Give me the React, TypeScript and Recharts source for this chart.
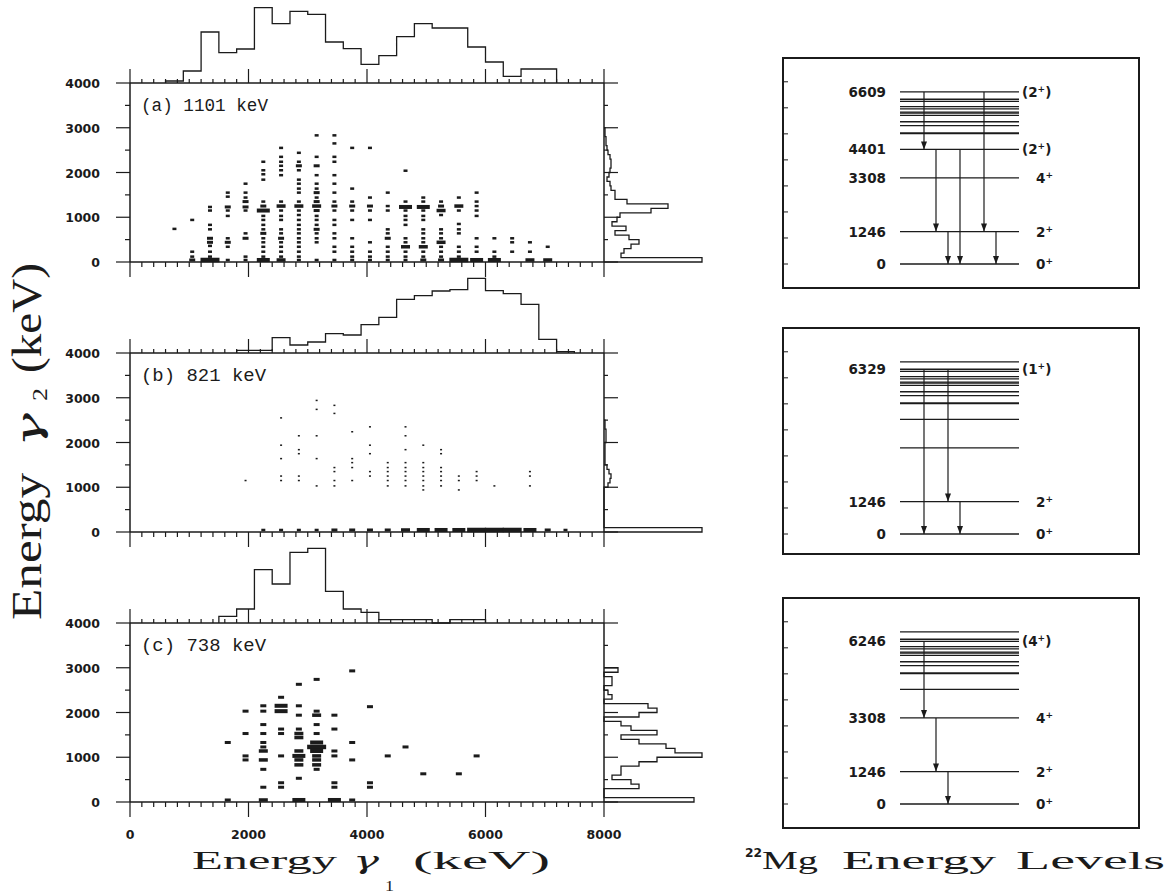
import React from 'react';
import { ScatterChart, Scatter, XAxis, YAxis, ReferenceLine } from 'recharts';

// ---------------- values ----------------

const gateNames = ['(a) 1101 keV', '(b) 821 keV', '(c) 738 keV'];

const xMajor = [0, 2000, 4000, 6000, 8000];
const yMajor = [0, 1000, 2000, 3000, 4000];

// gamma1 projections above the panels: 300 keV bins, arbitrary counts
const TOP_BIN = 300;
const topStart = [600, 1800, 1500];
const topA = [6, 36, 153, 91, 102, 226, 178, 215, 206, 123, 103, 56, 82, 139, 178, 165, 165, 108, 63, 20, 42, 42];
const topB = [8, 8, 46, 24, 33, 58, 54, 85, 107, 161, 172, 186, 190, 224, 187, 178, 146, 41, 4];
const topC = [20, 42, 160, 117, 212, 224, 95, 42, 32, 10, 10, 10, 0, 10, 10];

// gamma2 projections right of the panels: 100 keV bins from 0
const SIDE_BIN = 100;
const sideA = [98, 17, 20, 27, 35, 25, 11, 22, 8, 13, 16, 47, 64, 23, 11, 11, 7, 6, 3, 5, 6, 7, 7, 6, 4, 3, 2, 2, 1, 1];
const sideB = [98, 0, 0, 0, 0, 0, 0, 0, 0, 0, 4, 6, 7, 5, 3, 1, 1, 1, 1, 1, 2, 2, 2, 1, 1];
const sideC = [90, 0, 0, 35, 27, 8, 17, 17, 35, 53, 98, 71, 62, 35, 17, 53, 27, 17, 0, 35, 53, 44, 0, 8, 4, 0, 8, 8, 0, 14];

// coincidence matrix: gamma1 columns, and the gamma2 rows with counts in each column
const dotColumns = [750, 1050, 1350, 1650, 1950, 2250, 2550, 2850, 3150, 3450, 3750, 4050, 4350, 4650, 4950, 5250, 5550, 5850, 6150, 6450, 6750, 7050, 7350];

const rowsA = [
  [740],
  [940, 230, 120, 45],
  [1230, 1150, 830, 730, 530, 440, 360, 230, 120, 45],
  [1550, 1460, 1230, 1150, 1030, 530, 440, 340, 45],
  [1750, 1550, 1440, 1350, 1230, 1150, 640, 530, 120, 45],
  [2240, 2050, 1960, 1840, 1350, 1250, 1150, 1030, 940, 830, 730, 640, 530, 440, 340, 230, 120, 45],
  [2550, 2350, 2240, 2150, 2050, 1940, 1350, 1250, 1150, 1030, 940, 730, 640, 530, 440, 340, 230, 120, 45],
  [2440, 2240, 2150, 2050, 1840, 1750, 1640, 1550, 1350, 1250, 1150, 1050, 940, 830, 730, 640, 530, 440, 340, 230, 120, 45],
  [2830, 2350, 2150, 1940, 1750, 1640, 1550, 1440, 1350, 1250, 1150, 1030, 940, 830, 730, 640, 530, 440, 45],
  [2830, 2650, 2350, 2240, 1940, 1750, 1550, 1350, 1250, 1150, 940, 830, 640, 530, 340, 230, 45],
  [2550, 1640, 1350, 1250, 1150, 940, 530, 340, 230, 120, 45],
  [2550, 1440, 1250, 1150, 940, 440, 230, 120, 45],
  [1550, 1250, 1150, 730, 640, 530, 340, 230, 120, 45],
  [2040, 1350, 1230, 1150, 1030, 940, 830, 530, 440, 340, 230, 120, 45],
  [1440, 1350, 1230, 1150, 1030, 940, 730, 640, 530, 440, 340, 230, 120, 45],
  [1350, 1250, 1150, 1050, 730, 640, 530, 440, 340, 230, 120, 45],
  [1440, 1250, 1150, 850, 730, 640, 340, 230, 120, 45],
  [1550, 1350, 1250, 1150, 1030, 530, 340, 230, 45],
  [530, 230, 120, 45],
  [530, 440, 230],
  [440, 230, 45],
  [340, 45],
  [],
];
const heavyA = [
  [1050, 45, 2], [1350, 45, 5], [1350, 530, 2], [1350, 440, 2], [1650, 1230, 2], [1650, 440, 2],
  [1950, 1350, 2], [1950, 1230, 2], [1950, 530, 2], [2250, 1150, 4], [2250, 1250, 2], [2250, 640, 2],
  [2250, 45, 4], [2550, 1250, 3], [2550, 530, 2], [2550, 45, 3], [2850, 1250, 3], [2850, 2150, 2],
  [3150, 1250, 3], [3150, 2150, 2], [3150, 1550, 2], [3150, 1350, 2], [3150, 1150, 2], [3150, 730, 2],
  [3450, 1250, 2], [3750, 1250, 2], [4050, 1250, 2], [4350, 530, 2], [4650, 1230, 4], [4650, 340, 3],
  [4950, 1230, 4], [4950, 340, 3], [4950, 45, 2], [5250, 1150, 3], [5250, 1250, 2], [5250, 440, 3],
  [5250, 45, 2], [5550, 1250, 3], [5550, 45, 5], [5850, 45, 4], [6150, 45, 4], [6750, 45, 3], [7050, 45, 3],
];

const rowsB = [
  [], [], [], [],
  [1150],
  [45],
  [2550, 1940, 1640, 1250, 1150, 45],
  [2150, 1840, 1750, 1250, 1150, 45],
  [2940, 2740, 2150, 1640, 1030, 45],
  [2830, 2650, 1440, 1350, 1150, 1030, 45],
  [2240, 1640, 1550, 1440, 1150, 45],
  [2350, 1940, 1750, 1350, 1250, 45],
  [1550, 1440, 1350, 1250, 1150, 1030, 45],
  [2350, 2150, 1840, 1550, 1440, 1350, 1250, 1150, 1030, 45],
  [1940, 1550, 1440, 1350, 1250, 1150, 1030, 940, 45],
  [1840, 1750, 1440, 1350, 1250, 1150, 1030, 45],
  [1250, 1150, 940, 45],
  [1350, 1250, 1150, 45],
  [1030, 45],
  [45],
  [1350, 1250, 1030, 45],
  [45],
  [45],
];
const heavyB = [
  [2250, 45, 1], [2550, 45, 1], [2850, 45, 1], [3150, 45, 1], [3450, 45, 2], [3750, 45, 2],
  [4050, 45, 2], [4350, 45, 2], [4650, 45, 3], [4950, 45, 4], [5250, 45, 4], [5550, 45, 4],
  [5850, 45, 5], [6150, 45, 5], [6450, 45, 5], [6750, 45, 4], [7050, 45, 2], [7350, 45, 1],
];

const rowsC = [
  [], [], [],
  [1330, 45],
  [2030, 1530, 1030, 940],
  [2150, 2030, 1730, 1530, 1330, 1230, 1140, 940, 730, 330, 45],
  [2340, 2150, 2030, 1630, 1530, 1030, 430, 330],
  [2630, 2150, 1940, 1630, 1530, 1440, 1140, 1030, 940, 830, 530, 45],
  [2740, 2030, 1940, 1730, 1530, 1330, 1230, 1140, 1030, 940, 830, 730],
  [1940, 1630, 1140, 1030, 430, 330, 45],
  [2930, 1330, 940, 45],
  [2130, 430, 330],
  [1030],
  [1230],
  [630],
  [],
  [630],
  [1030],
  [], [], [], [], [],
];
const heavyC = [
  [2250, 1140, 3], [2250, 940, 3], [2250, 45, 3], [2550, 2150, 4], [2550, 2030, 4], [2850, 1530, 3],
  [2850, 1440, 3], [2850, 1140, 3], [2850, 1030, 4], [2850, 940, 3], [2850, 830, 3], [2850, 45, 4],
  [3150, 1940, 3], [3150, 1330, 4], [3150, 1230, 5], [3150, 1140, 4], [3150, 1030, 3], [3150, 940, 3],
  [3150, 830, 3], [3450, 45, 4],
];

// 22Mg level scheme (keV)
const levels = [0, 1246, 3308, 4401, 5006, 5037, 5317, 5464, 5713, 5800, 5837, 5961, 6046, 6246, 6329, 6609];
const namedA = [6609, 4401, 3308, 1246, 0];
const spinsA = ['(2+)', '(2+)', '4+', '2+', '0+'];
const namedB = [6329, 1246, 0];
const spinsB = ['(1+)', '2+', '0+'];
const namedC = [6246, 3308, 1246, 0];
const spinsC = ['(4+)', '4+', '2+', '0+'];
const cascadeA = [[6609, 4401], [4401, 1246], [1246, 0], [4401, 0], [6609, 1246], [1246, 0]];
const cascadeB = [[6329, 0], [6329, 1246], [1246, 0]];
const cascadeC = [[6246, 3308], [3308, 1246], [1246, 0]];

// ---------------- layout ----------------

const INK = '#1b1b1b';
const TICK_FONT = '"DejaVu Sans", sans-serif';
const SERIF = '"Liberation Serif", serif';

const PLOT_LEFT = 130;
const PLOT_RIGHT = 604;
const PLOT_TOP = 83;
const PLOT_BOTTOM = 262;
const PANEL_STEP = 270;
const CHART_W = 720;
const CHART_H = 330;
const HIST_H = 80;
const SIDE_W = 100;

const BOX_LEFT = 782;
const BOX_W = 358;
const BOX_TOP = [57, 327, 597];
const BOX_H = [232, 228, 232];
const BOX_ZERO = [264, 534, 804];
const PX_PER_KEV = 0.02603;
const LV_X1 = 118;
const LV_X2 = 237;
const LANE0 = 142;
const LANE_STEP = 12;
const ARROW_LANES = [[0, 1, 2, 3, 5, 6], [0, 2, 3], [0, 1, 2]];

const MARK = [[2, 1.5], [4, 2.5], [6, 3], [9, 3.5], [13, 4], [19, 4.5]];

const xTicks = Array.from({ length: 41 }, (_, i) => i * 200);
const yTicks = Array.from({ length: 9 }, (_, i) => i * 500);
const boxTicks = Array.from({ length: 8 }, (_, i) => i * 1000);

const topLists = [topA, topB, topC];
const sideLists = [sideA, sideB, sideC];
const rowLists = [rowsA, rowsB, rowsC];
const heavyLists = [heavyA, heavyB, heavyC];
const baseWeight = [1, 0, 2];
const namedLists = [namedA, namedB, namedC];
const spinLists = [spinsA, spinsB, spinsC];
const cascadeLists = [cascadeA, cascadeB, cascadeC];

const buildDots = (rows: number[][], heavy: number[][], base: number) =>
  dotColumns.flatMap((x, c) =>
    rows[c].map((y) => {
      const h = heavy.find((d) => d[0] === x && d[1] === y);
      return { x, y, w: h ? h[2] : base };
    })
  );

const topOutline = (start: number, counts: number[]) => {
  const pts = [{ x: start, y: 0 }];
  counts.forEach((c, i) => {
    pts.push({ x: start + i * TOP_BIN, y: c }, { x: start + (i + 1) * TOP_BIN, y: c });
  });
  pts.push({ x: start + counts.length * TOP_BIN, y: 0 });
  return pts;
};

const sideOutline = (counts: number[]) => {
  const pts = [{ x: 0, y: 0 }];
  counts.forEach((c, i) => {
    pts.push({ x: c, y: i * SIDE_BIN }, { x: c, y: (i + 1) * SIDE_BIN });
  });
  pts.push({ x: 0, y: counts.length * SIDE_BIN });
  return pts;
};

const Nothing = () => <g />;

const Mark = (props: any) => {
  const { cx, cy, payload } = props;
  const [w, h] = MARK[payload.w];
  return <rect x={cx - w / 2} y={cy - h / 2} width={w} height={h} fill={INK} />;
};

const ArrowHead = (props: any) => {
  const { cx, cy, payload } = props;
  if (!payload.head) return <g />;
  return <polygon points={`${cx - 3},${cy - 8} ${cx + 3},${cy - 8} ${cx},${cy}`} fill={INK} />;
};

const tickLabel = (x: number, y: number, s: string, anchor: 'start' | 'middle' | 'end', per = 8.7, size = 13) => (
  <text
    x={x}
    y={y}
    textAnchor={anchor}
    fontFamily={TICK_FONT}
    fontWeight="bold"
    fontSize={size}
    fill={INK}
    textLength={s.length * per}
    lengthAdjust="spacingAndGlyphs"
  >
    {s}
  </text>
);

const isMajorX = (v: number) => xMajor.includes(v);
const isMajorY = (v: number) => yMajor.includes(v);

const bottomTick = (withLabels: boolean) => (p: any) => {
  const v = p.payload.value;
  const len = isMajorX(v) ? 15 : 5;
  return (
    <g>
      <line x1={p.x} y1={p.y} x2={p.x} y2={p.y + len} stroke={INK} strokeWidth={1.2} />
      {withLabels && isMajorX(v) && tickLabel(p.x, p.y + 37, String(v), 'middle')}
    </g>
  );
};

const topTick = (p: any) => {
  const len = isMajorX(p.payload.value) ? 14 : 4;
  return <line x1={p.x} y1={p.y} x2={p.x} y2={p.y - len} stroke={INK} strokeWidth={1.2} />;
};

const leftTick = (p: any) => {
  const v = p.payload.value;
  const major = isMajorY(v);
  return (
    <g>
      <line x1={p.x} y1={p.y} x2={p.x - (major ? 14 : 5)} y2={p.y} stroke={INK} strokeWidth={1.2} />
      {major && tickLabel(p.x - 30, p.y + 5, String(v), 'end')}
    </g>
  );
};

const rightTick = (p: any) => {
  const len = isMajorY(p.payload.value) ? 14 : 4;
  return <line x1={p.x} y1={p.y} x2={p.x + len} y2={p.y} stroke={INK} strokeWidth={1.2} />;
};

const boxTick = (p: any) => <line x1={p.x} y1={p.y} x2={p.x + 4} y2={p.y} stroke={INK} strokeWidth={1} />;

const axisStyle = { stroke: INK, strokeWidth: 1.5 };

// axes are given 1px of room so that Recharts draws them; margins make up for it
const AX = 1;

function Panel({ i }: { i: number }) {
  const oy = i * PANEL_STEP;
  const dots = buildDots(rowLists[i], heavyLists[i], baseWeight[i]);
  const top = topOutline(topStart[i], topLists[i]);
  const side = sideOutline(sideLists[i]);
  const vMargin = { top: PLOT_TOP, bottom: CHART_H - PLOT_BOTTOM };
  const axisCommon = { interval: 0 as const, tickSize: 0, tickMargin: 0, tickLine: false, axisLine: axisStyle };
  return (
    <>
      {/* gamma1 projection */}
      <div style={{ position: 'absolute', left: 0, top: oy, width: CHART_W, height: PLOT_TOP + 1 }}>
        <ScatterChart
          width={CHART_W}
          height={PLOT_TOP + 1}
          margin={{ top: PLOT_TOP - HIST_H, right: CHART_W - PLOT_RIGHT, bottom: 1, left: PLOT_LEFT }}
        >
          <XAxis type="number" dataKey="x" domain={[0, 8000]} hide />
          <YAxis type="number" dataKey="y" domain={[0, 240]} hide />
          <Scatter data={top} line={{ stroke: INK, strokeWidth: 1.3 }} fill="none" shape={Nothing} isAnimationActive={false} />
        </ScatterChart>
      </div>

      {/* gamma2 projection */}
      <div style={{ position: 'absolute', left: 0, top: oy, width: CHART_W, height: CHART_H }}>
        <ScatterChart
          width={CHART_W}
          height={CHART_H}
          margin={{ ...vMargin, left: PLOT_RIGHT, right: CHART_W - PLOT_RIGHT - SIDE_W }}
        >
          <XAxis type="number" dataKey="x" domain={[0, SIDE_W]} hide />
          <YAxis type="number" dataKey="y" domain={[0, 4000]} hide />
          <Scatter data={side} line={{ stroke: INK, strokeWidth: 1.3 }} fill="none" shape={Nothing} isAnimationActive={false} />
        </ScatterChart>
      </div>

      {/* coincidence matrix */}
      <div style={{ position: 'absolute', left: 0, top: oy, width: CHART_W, height: CHART_H }}>
        <ScatterChart
          width={CHART_W}
          height={CHART_H}
          margin={{
            top: PLOT_TOP - AX,
            bottom: CHART_H - PLOT_BOTTOM - AX,
            left: PLOT_LEFT - AX,
            right: CHART_W - PLOT_RIGHT - AX,
          }}
        >
          <XAxis xAxisId="b" type="number" dataKey="x" domain={[0, 8000]} ticks={xTicks} height={AX} tick={bottomTick(i === 2)} {...axisCommon} />
          <XAxis xAxisId="t" orientation="top" type="number" dataKey="x" domain={[0, 8000]} ticks={xTicks} height={AX} tick={topTick} {...axisCommon} />
          <YAxis yAxisId="l" type="number" dataKey="y" domain={[0, 4000]} ticks={yTicks} width={AX} tick={leftTick} {...axisCommon} />
          <YAxis yAxisId="r" orientation="right" type="number" dataKey="y" domain={[0, 4000]} ticks={yTicks} width={AX} tick={rightTick} {...axisCommon} />
          <Scatter xAxisId="t" yAxisId="r" data={dots} shape={Nothing} isAnimationActive={false} />
          <Scatter xAxisId="b" yAxisId="l" data={dots} shape={Mark} fill={INK} isAnimationActive={false} />
        </ScatterChart>
      </div>
    </>
  );
}

const spinText = (x: number, y: number, spin: string) => {
  const paren = spin.startsWith('(');
  const core = spin.replace(/[()+]/g, '');
  return (
    <text x={paren ? x + 3 : x + 17} y={y} fontFamily={TICK_FONT} fontWeight="bold" fontSize={13.5} fill={INK}>
      {paren ? '(' : ''}
      {core}
      <tspan dy={-5} fontSize={9}>+</tspan>
      <tspan dy={5}>{paren ? ')' : ''}</tspan>
    </text>
  );
};

function LevelBox({ i }: { i: number }) {
  const top = BOX_TOP[i];
  const h = BOX_H[i];
  const zero = BOX_ZERO[i];
  const eMin = -(top + h - zero) / PX_PER_KEV;
  const eMax = (zero - top) / PX_PER_KEV;
  const named = namedLists[i];
  const spins = spinLists[i];
  return (
    <div style={{ position: 'absolute', left: BOX_LEFT, top, width: BOX_W, height: h }}>
      <ScatterChart width={BOX_W} height={h} margin={{ top: 0, right: 0, bottom: 0, left: 1 }}>
        <XAxis type="number" dataKey="x" domain={[2, BOX_W]} hide />
        <YAxis
          type="number"
          dataKey="y"
          domain={[eMin, eMax]}
          ticks={boxTicks}
          interval={0}
          width={AX}
          tickSize={0}
          tickMargin={0}
          tickLine={false}
          axisLine={false}
          tick={boxTick}
        />
        {levels.map((e) => {
          const k = named.indexOf(e);
          const label =
            k < 0
              ? undefined
              : (p: any) => {
                  const vb = p.viewBox;
                  const s = String(e);
                  return (
                    <g>
                      {tickLabel(vb.x - 14, vb.y + 5, s, 'end', 9.4, 13.5)}
                      {spinText(vb.x + vb.width, vb.y + 5, spins[k])}
                    </g>
                  );
                };
          return (
            <ReferenceLine
              key={e}
              segment={[{ x: LV_X1, y: e }, { x: LV_X2, y: e }]}
              stroke={INK}
              strokeWidth={1.3}
              label={label}
            />
          );
        })}
        {cascadeLists[i].map(([from, to], k) => {
          const x = LANE0 + ARROW_LANES[i][k] * LANE_STEP;
          return (
            <Scatter
              key={k}
              data={[{ x, y: from, head: false }, { x, y: to, head: true }]}
              line={{ stroke: INK, strokeWidth: 1.2 }}
              fill={INK}
              shape={ArrowHead}
              isAnimationActive={false}
            />
          );
        })}
      </ScatterChart>
      <div
        style={{
          position: 'absolute',
          left: 0,
          top: 0,
          width: BOX_W,
          height: h,
          border: `2px solid ${INK}`,
          boxSizing: 'border-box',
        }}
      />
    </div>
  );
}

function Titles() {
  const t = (x: number, y: number, s: string, len: number, size = 26, extra: any = {}) => (
    <text x={x} y={y} fontFamily={SERIF} fontSize={size} fill={INK} textLength={len} lengthAdjust="spacingAndGlyphs" {...extra}>
      {s}
    </text>
  );
  const gamma = { fontFamily: '"DejaVu Serif", serif', fontStyle: 'italic' };
  return (
    <svg width={1170} height={894} style={{ position: 'absolute', left: 0, top: 0 }}>
      {gateNames.map((g, i) => (
        <text
          key={g}
          x={141}
          y={111 + i * PANEL_STEP}
          fontFamily='"Liberation Mono", monospace'
          fontSize={18}
          fill={INK}
          textLength={g.length === 12 ? 127 : 125}
          lengthAdjust="spacingAndGlyphs"
        >
          {g}
        </text>
      ))}
      {/* x title */}
      {t(192, 869, 'Energy', 145)}
      {t(353, 869, 'γ', 26, 24, gamma)}
      {t(385, 891, '1', 9, 15)}
      {t(413, 869, '(keV)', 137)}
      {/* y title */}
      <g transform="translate(41, 620) rotate(-90)">
        {t(0, 0, 'Energy', 147, 42)}
        {t(173, 0, 'γ', 34, 36, gamma)}
        {t(219, 6, '2', 13, 22)}
        {t(247, 0, '(keV)', 110, 42)}
      </g>
      {/* level scheme title */}
      <text x={745} y={857} fontFamily={TICK_FONT} fontWeight="bold" fontSize={13} fill={INK} textLength={17} lengthAdjust="spacingAndGlyphs">
        22
      </text>
      {t(762, 869, 'Mg', 56)}
      {t(842, 869, 'Energy', 154)}
      {t(1016, 869, 'Levels', 149)}
    </svg>
  );
}

export default function App() {
  return (
    <div style={{ position: 'absolute', left: 0, top: 0, width: 1170, height: 894, background: '#fff' }}>
      {[0, 1, 2].map((i) => (
        <Panel key={i} i={i} />
      ))}
      {[0, 1, 2].map((i) => (
        <LevelBox key={i} i={i} />
      ))}
      <Titles />
    </div>
  );
}
